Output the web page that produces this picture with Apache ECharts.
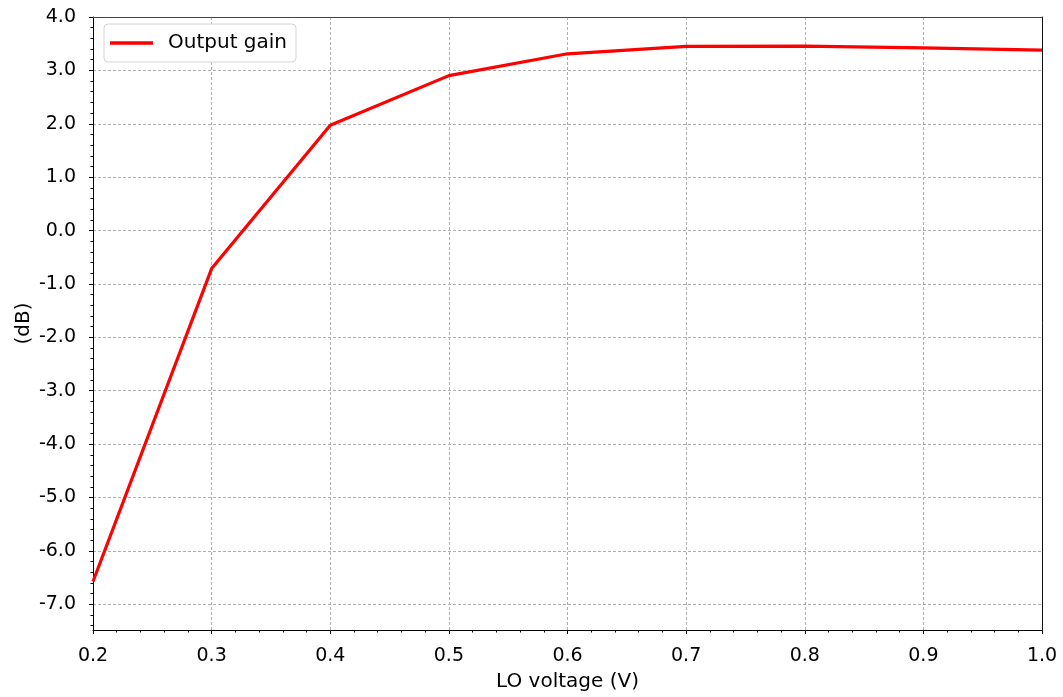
<!DOCTYPE html>
<html>
<head>
<meta charset="utf-8">
<script src="https://cdn.jsdelivr.net/npm/echarts@6/dist/echarts.min.js"></script>
<style>
html,body{margin:0;padding:0;background:#fff;}
#chart{width:1063px;height:697px;}
</style>
</head>
<body>
<div id="chart"></div>
<script>
// Data
const loVoltage = [0.2, 0.3, 0.4, 0.5, 0.6, 0.7, 0.8, 0.9, 1.0];
const outputGain = [-6.59, -0.72, 1.97, 2.90, 3.31, 3.45, 3.455, 3.42, 3.38];
const seriesName = 'Output gain';
const xLabelName = 'LO voltage (V)';
const yLabelName = '(dB)';

const FONT = 'DejaVu Sans';
const FS = 19;
const FS2 = 20;
const gridL = 93, gridR = 21, gridT = 17, gridB = 66;
const yMin = -7.5, yMax = 4.0;
const pxPerUnit = (697 - gridT - gridB) / (yMax - yMin);

const dashed = { color: '#b0b0b0', width: 1, type: [3, 2] };

const chart = echarts.init(document.getElementById('chart'), null, { renderer: 'canvas' });
chart.setOption({
  animation: false,
  backgroundColor: '#fff',
  grid: [
    { left: gridL, right: gridR, top: gridT, bottom: gridB },
    { left: gridL, right: gridR, top: gridT, bottom: gridB + 0.5 * pxPerUnit },
    { left: gridL, right: gridR, top: gridT, bottom: gridB + 0.1 * pxPerUnit }
  ],
  legend: {
    left: 104, top: 24,
    padding: [9, 9, 9, 6],
    backgroundColor: '#fff',
    borderColor: '#d4d4d4', borderWidth: 1, borderRadius: 4,
    icon: 'rect', itemWidth: 43, itemHeight: 3.5,
    textStyle: { fontFamily: FONT, fontSize: FS2, color: '#000', padding: [0, 0, 0, 10] },
    data: [seriesName]
  },
  xAxis: [
    {
      gridIndex: 0, type: 'value', min: 0.2, max: 1.0, interval: 0.1,
      name: xLabelName, nameLocation: 'middle', nameGap: 42,
      nameTextStyle: { fontFamily: FONT, fontSize: FS2, color: '#000' },
      axisLine: { show: true, onZero: false, lineStyle: { color: '#000', width: 1 } },
      axisTick: { show: true, inside: false, length: 4, lineStyle: { color: '#000' } },
      minorTick: { show: true, splitNumber: 5, length: 2.5, lineStyle: { color: '#000' } },
      axisLabel: { fontFamily: FONT, fontSize: FS, color: '#000', margin: 17,
        formatter: v => v.toFixed(1) },
      splitLine: { show: true, lineStyle: dashed }
    },
    {
      gridIndex: 0, type: 'value', min: 0.2, max: 1.0, position: 'top',
      axisLine: { show: true, onZero: false, lineStyle: { color: '#444', width: 1 } },
      axisTick: { show: false }, axisLabel: { show: false }, splitLine: { show: false }
    },
    { gridIndex: 1, type: 'value', min: 0.2, max: 1.0, show: false },
    { gridIndex: 2, type: 'value', min: 0.2, max: 1.0, show: false }
  ],
  yAxis: [
    {
      gridIndex: 0, type: 'value', min: yMin, max: yMax,
      name: yLabelName, nameLocation: 'middle', nameGap: 59, nameRotate: 90,
      nameTextStyle: { fontFamily: FONT, fontSize: FS2, color: '#000' },
      axisLine: { show: true, onZero: false, lineStyle: { color: '#000', width: 1 } },
      axisTick: { show: false }, axisLabel: { show: false }, splitLine: { show: false }
    },
    {
      gridIndex: 0, type: 'value', min: yMin, max: yMax, position: 'right',
      axisLine: { show: true, onZero: false, lineStyle: { color: '#111', width: 1 } },
      axisTick: { show: false }, axisLabel: { show: false }, splitLine: { show: false }
    },
    {
      gridIndex: 1, type: 'value', min: -7, max: 4, interval: 1,
      axisLine: { show: false },
      axisTick: { show: true, inside: false, length: 4, lineStyle: { color: '#000' } },
      axisLabel: { fontFamily: FONT, fontSize: FS, color: '#000', margin: 17,
        formatter: v => v.toFixed(1) },
      splitLine: { show: true, lineStyle: dashed }
    },
    {
      gridIndex: 2, type: 'value', min: -7.4, max: 4, interval: 0.2,
      axisLine: { show: false },
      axisTick: { show: true, inside: false, length: 2.5, lineStyle: { color: '#000' } },
      axisLabel: { show: false }, splitLine: { show: false }
    }
  ],
  series: [
    {
      name: seriesName, type: 'line', xAxisIndex: 0, yAxisIndex: 0,
      data: loVoltage.map((x, i) => [x, outputGain[i]]),
      showSymbol: false, symbol: 'none',
      lineStyle: { color: '#ff0000', width: 3.2 },
      itemStyle: { color: '#ff0000' },
      z: 5
    }
  ]
});
</script>
</body>
</html>
